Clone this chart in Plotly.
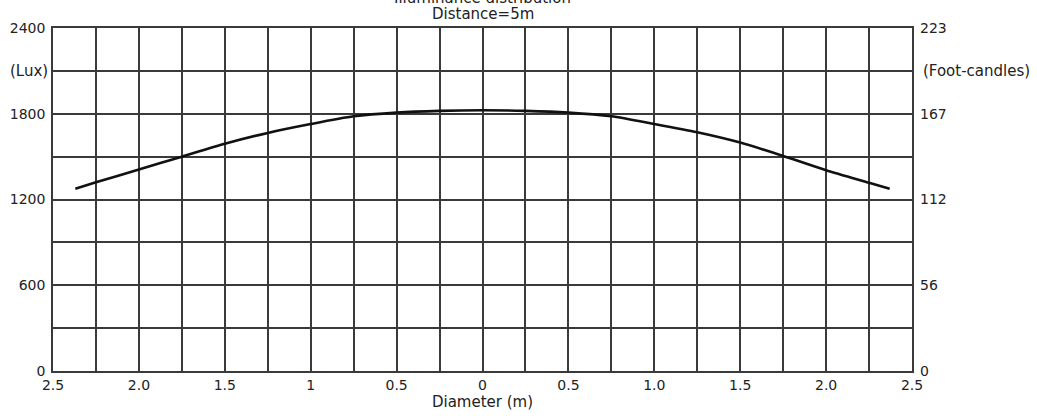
import plotly.graph_objects as go

# Data
diameter_m = [-2.37, -2.25, -2.0, -1.75, -1.5, -1.25, -1.0, -0.75, -0.5, -0.25, 0.0,
              0.25, 0.5, 0.75, 1.0, 1.25, 1.5, 1.75, 2.0, 2.25, 2.37]
illuminance_lux = [1275, 1320, 1410, 1500, 1590, 1666, 1728, 1782, 1808, 1820, 1824,
                   1820, 1808, 1782, 1728, 1670, 1598, 1505, 1405, 1317, 1275]

x_grid = [-2.5, -2.25, -2.0, -1.75, -1.5, -1.25, -1.0, -0.75, -0.5, -0.25, 0.0,
          0.25, 0.5, 0.75, 1.0, 1.25, 1.5, 1.75, 2.0, 2.25, 2.5]
x_labels = ["2.5", "", "2.0", "", "1.5", "", "1", "", "0.5", "", "0",
            "", "0.5", "", "1.0", "", "1.5", "", "2.0", "", "2.5"]

y_grid = [0, 300, 600, 900, 1200, 1500, 1800, 2100, 2400]
lux_labels = ["0", "", "600", "", "1200", "", "1800", "", "2400"]
fc_labels = ["0", "", "56", "", "112", "", "167", "", "223"]
lux_unit = "(Lux)"
fc_unit = "(Foot-candles)"
unit_level = 2100

title_text = "Illuminance distribution"
subtitle_text = "Distance=5m"
x_title = "Diameter (m)"

FONT = "DejaVu Sans"
FS = 14
FS_TXT = 15
GRID = "#3a3a3a"
TXT = "#222222"

fig = go.Figure()
fig.add_trace(go.Scatter(
    x=diameter_m, y=illuminance_lux, mode="lines",
    line=dict(color="#111111", width=2.6, shape="spline", smoothing=0.7),
    showlegend=False, hoverinfo="skip"))
# invisible trace to activate the right axis
fig.add_trace(go.Scatter(x=[diameter_m[0]], y=[illuminance_lux[0]], yaxis="y2",
                         mode="markers", marker=dict(opacity=0), showlegend=False,
                         hoverinfo="skip"))

fig.update_layout(
    width=1037, height=420,
    margin=dict(l=53, r=125, t=28, b=49),
    paper_bgcolor="white", plot_bgcolor="white",
    font=dict(family=FONT, size=FS, color=TXT),
    xaxis=dict(range=[-2.5, 2.5], tickmode="array", tickvals=x_grid, ticktext=x_labels,
               showgrid=True, gridcolor=GRID, gridwidth=1.5, zeroline=False,
               showline=True, linecolor=GRID, linewidth=1.5, mirror=True,
               ticks="", ticklabelstandoff=0, automargin=False,
               title=dict(text=x_title, standoff=2, font=dict(size=FS_TXT))),
    yaxis=dict(range=[0, 2400], tickmode="array", tickvals=y_grid, ticktext=lux_labels,
               showgrid=True, gridcolor=GRID, gridwidth=1.5, zeroline=False,
               showline=True, linecolor=GRID, linewidth=1.5, mirror=True,
               ticks="", ticklabelstandoff=3, automargin=False),
    yaxis2=dict(range=[0, 2400], overlaying="y", side="right", tickmode="array",
                tickvals=y_grid, ticktext=fc_labels, showgrid=False, zeroline=False,
                showline=False, ticks="", ticklabelstandoff=7, automargin=False),
    annotations=[
        dict(text=title_text, xref="paper", yref="paper", x=0.5, y=1.0,
             yshift=19, xanchor="center", yanchor="bottom", showarrow=False,
             font=dict(family=FONT, size=FS_TXT, color=TXT)),
        dict(text=subtitle_text, xref="paper", yref="paper", x=0.5, y=1.0,
             yshift=3, xanchor="center", yanchor="bottom", showarrow=False,
             font=dict(family=FONT, size=FS_TXT, color=TXT)),
        dict(text=lux_unit, xref="paper", yref="y", x=-0.004, y=unit_level,
             xanchor="right", yanchor="middle", showarrow=False,
             font=dict(family=FONT, size=FS_TXT, color=TXT)),
        dict(text=fc_unit, xref="paper", yref="y", x=1.011, y=unit_level,
             xanchor="left", yanchor="middle", showarrow=False,
             font=dict(family=FONT, size=FS_TXT, color=TXT)),
    ],
)

fig.write_html("out.html", config={"displayModeBar": False},
               post_script="document.body.style.margin='0';")
